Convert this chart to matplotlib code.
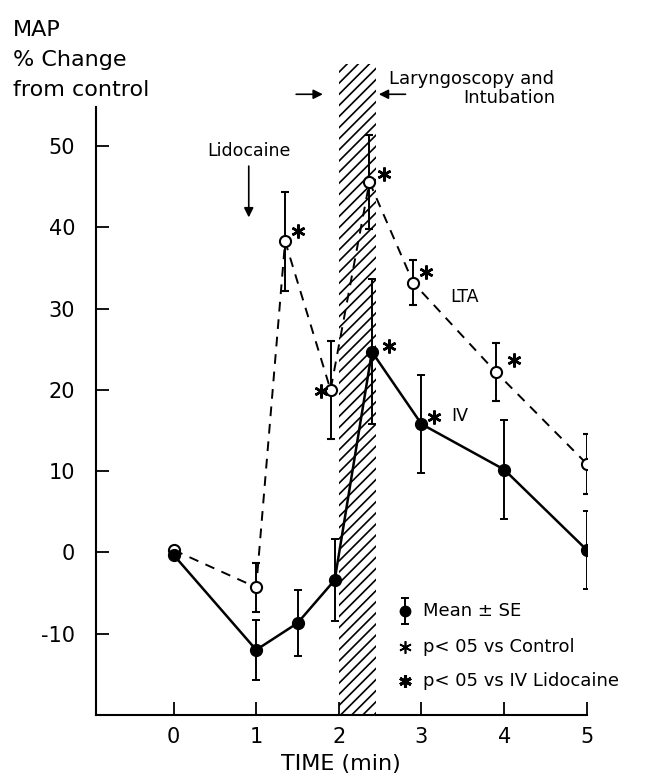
import matplotlib
matplotlib.use("Agg")
import matplotlib.pyplot as plt
from matplotlib.patches import Rectangle

# IV lidocaine (filled circles)
iv_t = [0, 1, 1.5, 1.95, 2.4, 3, 4, 5]
iv_mean = [-0.3, -12.0, -8.7, -3.4, 24.7, 15.8, 10.2, 0.3]
iv_se = [0.0, 3.7, 4.1, 5.0, 8.9, 6.0, 6.1, 4.8]

# LTA (open circles)
lta_t = [0, 1, 1.35, 1.9, 2.37, 2.9, 3.9, 5]
lta_mean = [0.3, -4.3, 38.3, 20.0, 45.6, 33.2, 22.2, 10.9]
lta_se = [0.0, 3.0, 6.1, 6.0, 5.8, 2.8, 3.6, 3.7]

# significance stars
star_x = [1.51, 1.78, 2.55, 3.06, 4.12, 2.61, 3.15]
star_y = [39.6, 19.9, 46.6, 34.5, 23.7, 25.4, 16.7]

xticks = [0, 1, 2, 3, 4, 5]
yticks = [-10, 0, 10, 20, 30, 40, 50]

plt.rcParams['font.family'] = ['DejaVu Sans']
plt.rcParams['hatch.linewidth'] = 1.2
fig = plt.figure(figsize=(6.52, 7.83), dpi=100)
ax = fig.add_axes([0.147, 0.087, 0.753, 0.776])

ast = (6, 2, 0)  # asterisk marker

ax.add_patch(Rectangle((2.0, -20), 0.45, 80.1, facecolor="white", edgecolor="black",
                       hatch="///", linewidth=0, clip_on=False, zorder=1))

ax.errorbar(lta_t, lta_mean, yerr=lta_se, fmt="o", color="black", mfc="white",
            mec="black", ms=8, mew=1.5, ls=(0, (5, 4)), lw=1.4, capsize=3,
            elinewidth=1.4, capthick=1.4, zorder=3)
ax.errorbar(iv_t, iv_mean, yerr=iv_se, fmt="o", color="black", mfc="black",
            ms=8.5, ls="-", lw=1.8, capsize=3, elinewidth=1.4, capthick=1.4, zorder=4)

ax.plot(star_x, star_y, ls="none", marker=ast, ms=10, mew=1.8, color="black", zorder=5)

ax.text(3.35, 31.5, "LTA", fontsize=12.5, va="center")
ax.text(3.36, 16.8, "IV", fontsize=12.5, va="center")

# legend block
leg_x = 2.8
leg_tx = 3.02
ax.errorbar([leg_x], [-7.2], yerr=[1.6], fmt="o", color="black", ms=7.5, capsize=3,
            elinewidth=1.4, capthick=1.4)
ax.text(leg_tx, -7.2, "Mean ± SE", fontsize=13, va="center")
ax.plot([leg_x], [-11.7], marker=ast, ms=9, mew=1.2, color="black")
ax.text(leg_tx, -11.7, "p< 05 vs Control", fontsize=13, va="center")
ax.plot([leg_x], [-15.8], marker=ast, ms=9, mew=2.2, color="black")
ax.text(leg_tx, -15.8, "p< 05 vs IV Lidocaine", fontsize=13, va="center")

# Lidocaine arrow
ax.annotate("", xy=(0.91, 40.9), xytext=(0.91, 47.9),
            arrowprops=dict(arrowstyle="-|>", color="black", lw=1.2, mutation_scale=14))
ax.text(0.91, 49.4, "Lidocaine", fontsize=12.5, ha="center", va="center")

# laryngoscopy arrows
ax.annotate("", xy=(1.84, 56.4), xytext=(1.45, 56.4), annotation_clip=False,
            arrowprops=dict(arrowstyle="-|>", color="black", lw=1.2, mutation_scale=14))
ax.annotate("", xy=(2.45, 56.4), xytext=(2.84, 56.4), annotation_clip=False,
            arrowprops=dict(arrowstyle="-|>", color="black", lw=1.2, mutation_scale=14))
ax.text(2.61, 58.3, "Laryngoscopy and", fontsize=13, ha="left", va="center")
ax.text(3.5, 56.0, "Intubation", fontsize=13, ha="left", va="center")

fig.text(0.02, 0.962, "MAP", fontsize=16, ha="left", va="center")
fig.text(0.02, 0.923, "% Change", fontsize=16, ha="left", va="center")
fig.text(0.02, 0.885, "from control", fontsize=16, ha="left", va="center")

ax.set_xlim(-0.94, 5)
ax.set_ylim(-20, 54.8)
ax.set_xticks(xticks)
ax.set_yticks(yticks)
ax.set_yticklabels([str(v) for v in yticks])
ax.tick_params(direction="in", length=9.5, width=1.3, labelsize=15)
ax.tick_params(axis="y", pad=15)
ax.tick_params(axis="x", pad=9)
ax.spines["top"].set_visible(False)
ax.spines["right"].set_visible(False)
for s in ["left", "bottom"]:
    ax.spines[s].set_linewidth(1.5)
ax.set_xlabel("TIME (min)", fontsize=16, labelpad=5)

fig.savefig("out.png", dpi=100)
